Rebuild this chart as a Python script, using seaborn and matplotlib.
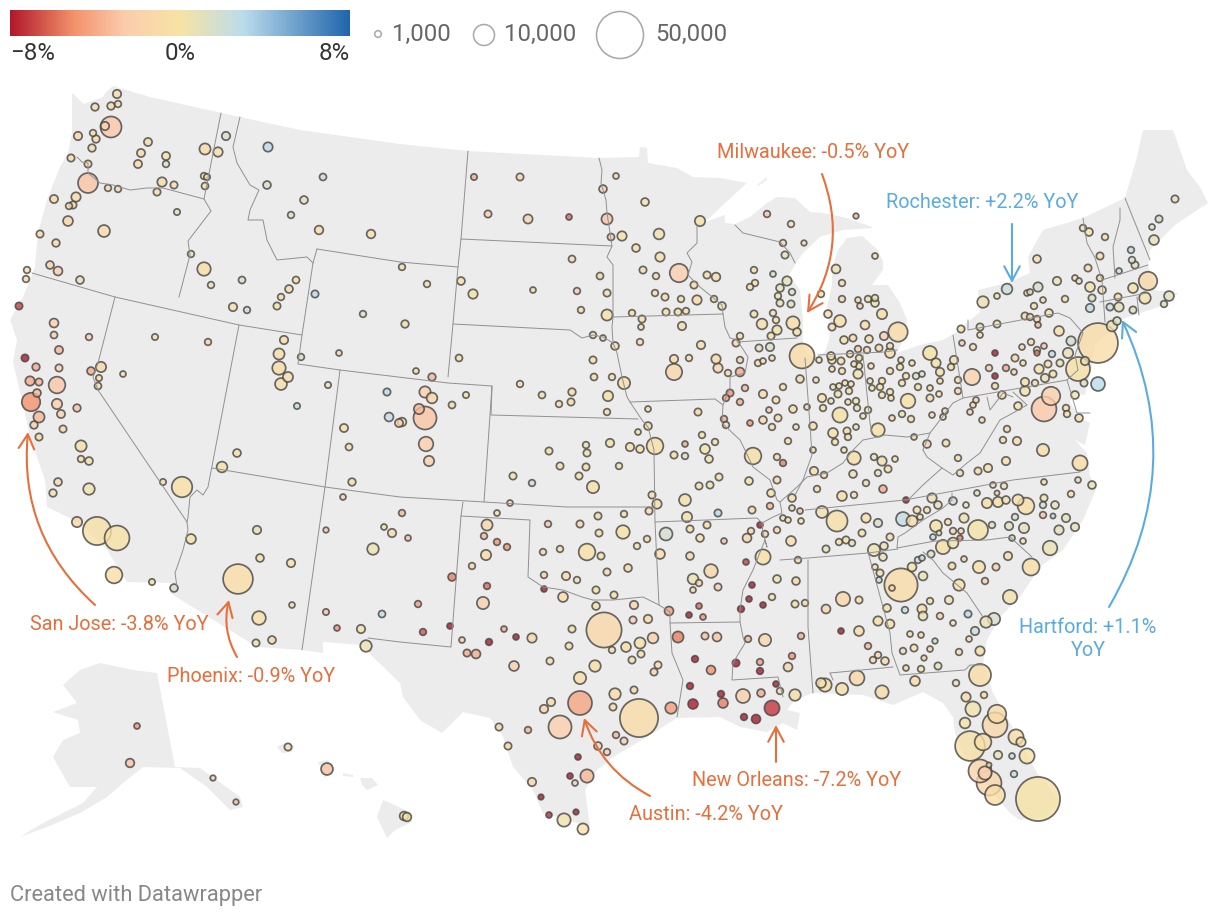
"""Map of metro areas: bubble size = jobs, colour = year-over-year change."""

import matplotlib
matplotlib.use("Agg")
import matplotlib.pyplot as plt
from matplotlib.colors import LinearSegmentedColormap
import numpy as np
import pandas as pd
import seaborn as sns

# (map_x, map_y, jobs in thousands, yoy %) by region, in projected map units
pacific_northwest = [
    (117,94,1.6,-.8),(118,104,1,-.8),(111,106,1.3,-1),(95,107,1.3,-1),(111,127,10,-2.8),(105,126,1.6,-2),
    (78,136,1.6,-1.5),(93,133,1,-.8),(96,139,1.3,-1),(92,148,1.3,-.8),(148,142,1.5,-1),(141,153,1.5,-1),
    (138,164,1.5,-1),(166,156,1.5,-.2),(166,164,1,1),(71,158,1.2,-.8),(88,164,1.2,-1),(88,183,9,-3),
    (108,188,1,-1),(118,189,1,-1),(162,182,2,-1),(174,185,1.2,-.6),(157,192,1.2,-.6),(76,197,2,-1),
    (54,199,1.5,-.8),(69,206,1,-1),(73,205,1.2,-1),(68,221,2.2,-1.5),(104,231,3.2,-1),(40,234,1.2,-.6),
    (56,243,1.3,-.6),(50,265,1.4,-2),(58,271,1.8,-2.5),(27,270,1,-1),(26,279,1,-1),(80,280,1.4,.5),
    (177,212,.9,.8),(205,149,2.8,-.8),(218,152,2,.2),(226,136,1.6,1.5),(204,176,1,-.8),(207,177,.9,-.3),
    (205,186,1.1,-.3),(268,147,2,3),(267,185,1.4,1.5),(323,177,1.1,2),(304,200,1.4,.8),(291,215,1,1.2),
    (319,230,1.7,-.5),(371,234,1.7,-.3),(191,254,1,.8),(204,269,4.1,-.7),(211,285,1,.5),(242,280,1.1,1.5),
    (296,280,1.1,-.2),(289,289,1.4,-.5),(281,297,1,-.5),(315,294,1.2,3),(402,267,1,-.5),
]
california_west = [
    (19,306,1.2,-7),(54,323,1.8,-2),(54,335,1.1,-2.5),(59,350,1.5,-3.5),(89,337,1,-2.5),(155,337,.9,-.5),
    (208,342,1,-1.5),(233,307,1.6,-.3),(247,310,1,2),(277,306,1.2,-.3),(363,314,1,1),(25,358,1.2,-8),
    (36,367,1.3,-4),(59,368,1.2,-1.5),(91,371,1.4,-4),(101,367,2.4,-1.5),(99,378,.9,-.5),(98,386,1.1,-1),
    (123,374,.8,-.5),(30,381,2,-4),(39,382,1.2,-3.5),(57,385,6.3,-2.8),(37,393,1.4,-3.5),(31,402,7.7,-5),
    (57,404,2.4,-2.5),(77,408,1.3,-3),(61,414,1.5,-1.2),(39,417,2.8,-3.5),(34,425,1.3,-2),(39,437,1.2,-1),
    (63,429,1.2,-.8),(81,446,2.9,-.5),(81,459,1,-.4),(89,461,1.4,-.4),(58,482,1.4,-.8),(53,493,1.3,.3),
    (89,489,3,.3),(77,522,2.4,-1.5),(97,531,18,-.4),(117,538,14,-.2),(114,575,6.3,-.7),(152,582,.9,-.5),
    (174,588,1.4,1.5),(163,482,.9,-.3),(182,487,9.5,-.2),(191,539,2.2,-.2),(222,467,2.6,-.3),(237,453,1.4,-.1),
    (279,354,2.8,-.4),(279,368,4.1,-.9),(288,377,2.3,.2),(281,384,3.2,-.7),(284,340,1.6,-.5),(301,357,1,1),
    (339,353,.8,-1.5),(328,385,.9,.5),(297,406,.9,2.5),(387,392,1.2,3),(389,417,1.8,2.5),(399,423,1.5,-2),
    (344,428,1.5,-.3),(349,447,1.1,-.3),(352,482,1.3,-.3),(343,497,.8,-2),(257,530,1.6,.8),(260,558,1.4,-.3),
    (291,563,1.6,.2),(326,530,.7,-2.5),(384,527,.8,-.3),(392,533,1.6,-1),(373,549,3,.5),(238,579,20,-.7),
    (292,605,.8,-.7),(259,618,4.2,-.3),(272,640,1.4,-.8),(256,643,1.2,.1),(326,612,.9,-3),(337,628,.8,-5),
    (382,614,1.1,2.5),(361,629,1.6,.2),(366,646,3,.5),
]
alaska_hawaii = [
    (137,726,.8,-5),(130,763,1.7,-3),(288,747,1.2,-.4),(327,769,3.2,-3),(213,778,.7,-2),(236,802,.7,-3),
    (404,816,1.7,-.5),(407,817,1.7,-.3),
]
rockies_plains = [
    (425,392,2.9,-2),(432,398,2.6,-1.5),(419,409,2.4,-3.5),(425,418,12,-3),(402,422,1.7,-1.5),(426,444,4.8,-2.5),
    (429,461,2.4,-2),(452,405,1.1,-.8),(466,395,.9,-.5),(432,377,1.3,-3.5),(416,371,.8,-.5),(474,177,.9,-4),
    (520,177,1.2,-1.5),(488,214,1.2,-2.5),(528,219,1.9,-1.2),(569,217,.8,-6),(616,176,.8,-1.5),(603,189,1.4,-2.5),
    (607,219,2.8,-3),(611,237,1.1,-2),(622,236,2,-.1),(645,202,1.4,-.2),(700,221,2.4,0),(659,234,2.6,.3),
    (636,248,1.4,-.3),(660,257,2,-.2),(572,259,1.1,-.8),(600,276,1.1,-1),(643,270,1.2,-.4),(656,276,1,-.6),
    (679,273,7.7,-2.5),(707,275,1.2,-.5),(716,277,1.7,-.4),(694,285,1.2,-.7),(427,284,1,-.8),(461,281,1.4,-.5),
    (473,294,2,-.2),(533,290,.8,-.8),(577,291,1,-2.5),(607,293,1.2,-.6),(405,324,1.3,-.4),(581,310,1,-.6),
    (607,315,2.8,-.2),(632,313,1,-.7),(642,319,1.2,-.4),(641,327,.8,-.4),(655,293,1,-.6),(665,297,1.2,-.6),
    (681,299,1,-.5),(697,300,2,-1),(714,299,1,-.8),(722,306,1.4,-.5),(666,312,1.2,-.6),(678,312,1.2,-.5),
    (686,311,1,-.5),(682,326,1.6,-.4),(640,342,1,-.5),(701,345,1.6,-.7),(740,336,1,-.5),(736,343,1.2,-.6),
    (593,335,1,-1),(603,338,.8,.8),(615,346,1.4,-.7),(459,358,1.1,-.7),(593,360,1.2,-.5),(674,359,1.6,-.8),
    (689,358,1,-.7),(716,359,2,-1),(674,372,6,-1.3),(718,368,2,-1.5),(740,360,1,-1.5),(740,372,1.8,-4),
    (728,373,1,-.8),(520,384,1,-.7),(542,395,1.1,-.4),(572,392,1.3,-.5),(559,404,1,-.6),(571,402,1.2,-.7),
    (594,377,1.1,-.4),(612,377,1,-.5),(624,383,3.4,-.6),(608,396,2.4,-.5),(607,412,1,-.4),(648,409,.8,-.4),
    (648,426,1.4,-.8),(638,432,.8,.2),(655,446,6.3,-.2),(610,443,1.6,-.5),(630,447,1.6,-.1),(640,449,1.4,-.4),
    (586,445,1,.5),(587,453,1.2,-.2),(549,451,1.2,-.5),(560,466,1.2,-.4),(586,467,1.2,-.5),(619,466,1,-.5),
    (579,476,1.2,-.2),(593,487,3.4,-.2),(513,476,1.2,-.3),(532,483,1,1.8),(652,495,1.2,-.2),(657,504,2,-.1),
    (510,503,.8,-1.7),(497,513,.8,-.3),(649,511,1.2,-.8),(402,513,1,-3.5),(408,538,.8,-3),
]
south_central = [
    (598,516,1.2,-1.2),(624,514,1,-.3),(548,524,1,-3),(580,524,1.2,-1.5),(599,533,1.2,-.5),(623,532,4.1,-.1),
    (487,525,2.8,-1.5),(484,536,1,-3.5),(497,542,1,-5),(507,547,1,-5),(486,555,2.4,-.8),(472,566,1,-1.5),
    (452,577,1.4,-5.5),(543,552,1,-1.2),(560,549,1,-.5),(587,552,6.3,-.3),(601,556,1.2,0),(637,546,1,-.5),
    (647,539,1,-.5),(666,534,3.8,1.8),(660,554,2.2,-.7),(687,517,2.4,.1),(685,500,3.2,.2),(690,529,1.2,.2),
    (700,538,1.4,-.1),(707,525,1.2,-.7),(718,513,1.2,3),(724,541,.8,-3),(690,556,1.4,-1.5),(711,571,4.2,-1.5),
    (693,579,2.6,.5),(699,583,1,-1.5),(693,590,.8,-.8),(718,587,1.2,-2.5),(544,575,1,-1.5),(566,576,1.6,-.4),
    (577,580,1,.3),(607,572,1.2,-1),(628,568,1.4,-.6),(544,589,.8,-8),(487,586,1,-6),(596,590,1.2,-.1),
    (614,595,1.2,-.2),(563,597,2.2,-.7),(596,606,1.4,-.7),(634,605,1.6,-1.5),(418,604,1,-4.5),(483,603,3.4,-2),
    (669,611,1.8,-4.5),(699,606,.8,-6),(689,615,.8,-8),(703,617,.8,-5),(423,632,1,-6.5),(450,626,.8,-8),
    (462,640,.8,-2.5),(504,629,.8,-4),(516,637,.8,-8),(489,642,1,-8),(467,653,1.2,-4),(476,654,1.8,-4),
    (532,638,2,-1.3),(572,629,1.2,-.4),(604,630,28,-1.3),(633,620,1.2,-2.5),(648,619,1.6,-.8),(653,638,2.6,-2),
    (640,643,2.8,-.1),(626,647,2.2,-.7),(569,646,1.2,.1),(612,650,1,0),(641,654,1.2,.1),(550,661,1.2,-1),
    (632,660,1.2,-.5),(514,666,2.2,-2),(595,666,3,-.5),(658,665,1.2,-.6),(678,637,2.8,-5.5),(705,636,1.2,-3),
    (717,637,1.8,-3),(695,659,1,-8),(748,639,1,-3.5),(765,640,3.4,-1.5),(736,663,1.2,-8),(760,662,1,-4.5),
    (792,656,1,-5),(788,667,1.8,-1.2),(801,636,1,-4),(711,670,1.8,-5),(580,678,3.4,-.5),(580,703,13,-4.2),
    (560,727,12,-2.5),(544,709,1.6,-1.5),(551,702,1.6,-.8),(615,694,3,-.9),(634,690,1.2,-1.5),(613,707,1.2,-.4),
    (639,718,33,-1),(671,708,3,-4.5),(654,672,1.2,-1.2),(690,686,1,-8),(693,704,2.2,-8),(721,694,1,-8),
    (723,703,2.2,-5.5),(743,696,4.4,-2.2),(761,693,1.4,-4),(760,671,1,-8),(776,684,.8,-8),(780,691,1,-1),
    (795,695,3,-.5),(744,717,1,-8),(756,719,1.8,-8),(772,708,5.2,-7.2),(616,735,1,-3.5),(624,741,1.2,-2),
    (598,746,1.4,-1.5),(607,752,1,-2.5),(499,727,1.2,-1.5),(528,730,1,-3.5),(508,746,1.2,-.8),(578,757,.8,-8),
    (587,776,4,-3.5),(570,776,.8,-8),(575,783,.8,-2.5),(532,782,1.6,-1.5),(541,797,.7,-8),(549,815,.8,-7.5),
    (576,812,.7,-8),(564,820,4,.3),(583,829,2.8,-.1),
]
mississippi_valley = [
    (730,393,1.2,-5),(726,398,1,-4.5),(745,388,1,-3.5),(740,402,1,-4),(763,394,1.6,-.8),(776,400,1.2,-.5),
    (783,387,1,-.1),(793,409,1.4,-.7),(769,410,.8,-3),(750,423,.8,-5),(724,419,1,-4),(726,425,1,.5),
    (763,420,1.4,-1),(778,418,1.2,-.2),(772,427,1,-.4),(796,427,.8,-.5),(788,441,1,-.7),(702,435,1,-.2),
    (685,444,.8,-4),(715,442,1,.2),(705,449,2.2,.1),(674,455,1.2,-.4),(685,456,1,1),(709,459,1.4,-.3),
    (698,412,1.2,-.8),(753,456,6.3,-.4),(777,457,1,-1.5),(783,463,1,-5.5),(749,481,1.4,-.2),(777,480,1.2,-1),
    (699,486,1.2,-.2),(710,485,1.2,.4),(719,477,1.2,-.2),(771,493,1.4,-.2),(770,506,1,-3.5),(752,510,1.2,-.6),
    (792,498,1.4,-.3),(792,508,.8,.7),(783,518,.8,-.2),(788,520,.8,.3),(760,525,.8,-8),(751,531,1,-.8),
    (765,534,1,-1.5),(747,538,1.8,-1.5),(777,530,1,-1.5),(791,541,2.2,-.3),(763,557,5.2,-.3),(746,562,.8,-7),
    (798,560,1,-.7),(777,579,1.4,.5),(796,581,1.4,-1.2),(752,585,.8,-8),(749,599,.8,-8),(763,605,.8,-8),
    (772,597,1,-.2),(741,609,1,-8),(795,604,1.2,-1),(805,603,1,-1.5),
]
great_lakes = [
    (759,348,1.2,.9),(770,347,1.6,1.5),(772,358,.8,-.4),(763,361,.8,-.5),(758,363,1,-.7),(754,314,1.2,-.4),
    (762,324,2.6,-.4),(771,336,1.2,-.2),(777,330,2,-.1),(773,313,1,.4),(776,320,1,-.2),(793,323,4,-.5),
    (797,332,1.4,-.5),(754,270,1,-.5),(755,283,1,-.5),(750,287,1,-.6),(773,274,.8,1.5),(780,288,1.4,.8),
    (787,281,2,.8),(778,296,1,-.2),(792,292,1,1.3),(780,303,1.2,.7),(791,304,1.2,1),(767,214,1,-3),
    (791,224,1,-.7),(783,243,1,-1),(785,255,1.2,.5),(802,356,14,-.8),(856,216,.7,-3.5),(804,243,.7,-.5),
    (875,256,.8,-.8),(836,269,1.8,.5),(842,283,1,-1),(821,294,1,-.5),(842,299,1,-.8),(858,300,.8,-1.5),
    (860,306,.8,-2.5),(868,299,1,-.8),(875,298,1,.2),(875,303,1.4,.1),(828,314,1.4,-.5),(840,321,3.2,-.4),
    (832,327,1.2,-.4),(865,325,1.8,-.7),(882,314,2.4,-.5),(898,332,8.5,-.8),(884,336,1.6,-2.2),(844,340,1.4,-.7),
    (853,338,1.2,-.5),(869,339,1.4,-.4),(858,349,1,-2),(867,350,1,-.7),(879,348,1.2,-.6),(890,346,1,-.7),
    (890,353,2.2,-.4),(850,354,1,-.8),(831,356,1.4,-.2),(859,358,1,-.4),(832,360,1.4,-.4),(841,361,1.2,-.6),
    (819,360,.8,.3),(854,364,.8,-.3),(859,366,1,-.2),(871,366,.8,-.2),(832,369,.8,-.5),(842,371,1,-.5),
    (858,374,2,.4),(816,380,.8,-.5),(870,381,.8,.6),(882,381,1,-.3),(890,371,1,-.5),(906,376,1,-.5),
    (901,360,.8,-.3),(900,367,1,-.3),(912,363,.8,-.6),(916,376,1,1),(922,374,.8,1.2),(833,387,.8,.5),
    (839,386,.8,.3),(845,383,.8,.3),(851,384,.8,-.2),(849,391,1,-.4),(838,394,1.2,.2),(822,398,1.6,-.3),
    (872,388,.8,-.3),(880,387,1,-.3),(882,395,1,-.3),(890,392,1,-.4),(891,398,.8,-.3),(902,383,1,-.3),
    (918,387,1,.2),(908,401,4.8,-.2),(930,388,.8,-.4),(930,398,1.2,-.4),(939,394,.8,-.5),(940,381,.8,-.5),
    (930,353,4.4,.1),(936,363,2,-.2),(940,372,1.6,-.3),(951,367,1,-.4),(954,360,1.6,.3),(958,380,1,-.7),
    (958,391,1,-1.9),(972,377,6,-1.8),(807,407,.8,-2),(823,408,1,-.5),(848,402,.8,-.4),(857,408,1,.5),
    (856,401,1,.2),(840,415,5.2,-.1),(868,410,1,.4),(863,416,.8,.5),(813,426,1.4,-.4),(892,418,.8,-.6),
    (902,414,1,.5),(911,419,1,-.4),(932,415,.8,-.9),(945,411,.8,-.7),(943,417,.8,-1.3),(982,420,.8,-1.5),
    (970,412,.8,-1.8),(973,405,.8,-1.7),(976,400,.8,-1.5),(800,379,1.4,-1.2),(831,401,.8,.5),(847,431,1.2,-.3),
    (833,433,2.2,-.3),(856,427,.8,.5),(848,437,1,-.3),(835,442,1,-.4),(878,430,4.1,-.2),
]
northeast = [
    (1002,395,1.4,-.6),(1018,406,1.4,-.3),(1025,382,1.6,-.3),(1025,391,2.2,.3),(1035,383,1,-.3),(1066,408,1,-.6),
    (1067,414,1,-.8),(1079,418,1.4,-.6),(1075,395,1.4,0),(1007,429,1,-.8),(1051,396,7.7,-2),(1044,409,14,-2.7),
    (1084,383,1.2,1),(1098,384,4.4,3),(1078,369,13,0),(1085,361,1.6,.7),(1098,343,36,-.9),(1068,353,2.4,.7),
    (1071,341,2,1.8),(1059,331,2.2,-.2),(1052,354,1,2.5),(1039,369,2,-.2),(1048,364,1.2,.2),(1060,363,1.2,.5),
    (1053,374,1.2,-.1),(1045,378,1.6,.4),(1015,358,1.2,-1),(1023,363,.8,-.1),(1006,368,1,-4),(1014,372,.8,-1.2),
    (989,368,1,-1.7),(995,376,.8,-8),(995,386,1,-.8),(995,353,.8,-8),(1022,347,.8,-.9),(1031,342,1,-.8),
    (1037,350,1,-1),(1037,353,.7,-5.5),(1044,346,.8,-2.8),(962,343,.8,-2.5),(973,347,1,-1),(961,329,1.2,-.1),
    (980,327,1.2,.5),(980,335,.8,-.5),(997,324,1.2,.2),(983,302,3,.5),(997,296,.8,-.1),(1007,289,2.6,2.2),
    (1027,293,.8,-.3),(1030,292,.8,-.2),(1038,287,2,1.6),(1034,306,1,.2),(1043,300,.8,-.5),(1057,281,1.6,.5),
    (1065,299,1,-.4),(1049,313,1.4,.1),(1025,316,1.2,-.8),(1030,317,1,-.5),(1037,319,1,-.8),(1038,325,.8,-3.5),
    (1037,259,1.4,-.3),(1083,228,1,-.3),(1089,232,1.4,-.3),(1105,237,1,-.6),(1131,250,1,2.5),(1132,260,1,1.5),
    (1135,265,1.2,.7),(1119,271,.8,2.5),(1100,256,1.2,-.3),(1088,268,1.2,-.4),(1100,278,1,-.2),(1075,278,.8,-.2),
    (1079,281,.8,1),(1090,287,2.2,.1),(1102,290,1.4,.5),(1092,298,1.2,1.2),(1090,308,1.6,2.7),(1110,307,1.2,2),
    (1118,297,1.2,-.3),(1119,307,2,.7),(1133,288,2.2,-.1),(1148,281,7.7,-1.2),(1145,298,3,.2),(1133,310,1.2,1),
    (1169,296,2.2,1),(1164,304,1,1),(1117,321,1.4,1.1),(1112,326,2.6,.5),(1175,199,1.2,.8),(1159,219,1.2,1.5),
    (1152,227,.8,1),(1154,240,2.2,.6),
]
southeast = [
    (826,609,1.8,-1.5),(843,599,4.6,-1.5),(859,600,1.2,-1),(887,608,1.4,-.1),(905,610,1,2.5),(922,609,2,-.4),
    (923,616,1.8,.5),(940,616,1,-1.5),(968,614,1.2,3),(953,623,.8,-.5),(986,622,3,.5),(994,619,3.4,1.6),
    (975,631,1.6,2),(969,639,.8,-.5),(980,651,2,-.6),(841,631,.8,-8),(859,631,2.2,-.9),(878,621,2,-.7),
    (890,624,1.8,-.2),(868,646,1,-3.5),(878,655,1,-1.2),(873,660,1,-.8),(885,661,1.4,-1),(910,634,.8,-.5),
    (921,635,.8,-1),(935,641,.7,1.5),(914,648,1.2,-.2),(903,651,1,1),(930,649,.8,-1.5),(924,658,.7,-1.2),
    (959,652,1,-.4),(906,668,.8,-1.3),(921,669,1,-.3),(938,666,1.2,.5),(980,675,11,-.9),(915,681,2.2,-.8),
    (956,683,1,.6),(966,697,2,-.9),(984,695,1,-.5),(973,709,5.2,.3),(997,714,7.7,-1),(995,725,14,-1.2),
    (965,723,2.6,-.3),(970,746,20,-.4),(983,742,6.3,-.4),(1016,737,5.2,-1),(1021,742,2,-.7),(998,755,1.6,.7),
    (1012,756,.8,2.5),(1027,756,5.2,-.3),(980,771,12,-1.8),(985,773,4,-2.5),(989,765,.6,-.3),(989,783,14,-1.5),
    (995,795,9,-.6),(1014,774,1,2.5),(1038,799,44,-.1),(821,683,2.2,-.3),(825,685,4,-.5),(842,689,3.4,-.4),
    (857,678,5,-1.2),(882,692,4,-1),(901,585,25,-.9),(892,588,.8,-1.5),(923,576,1.8,.5),(912,567,1.8,.2),
    (918,560,1,2),(922,558,.8,2.5),(931,554,1.2,1),(880,573,1.2,.3),(875,567,.8,-.7),(879,580,.8,2.5),
    (874,550,3.4,.4),(883,557,1.4,.8),(884,546,1.4,.4),(890,537,1.2,-.4),(862,533,1.2,-.3),(852,543,1,1),
    (846,540,1.2,.2),(839,542,1,-.3),(826,549,1.2,.7),(866,518,2,-.2),(878,523,1.6,1.5),(837,521,10,-.4),
    (822,512,3.2,.3),(800,511,.8,-3),(801,521,.8,-.5),(817,489,1,-.5),(842,496,2.2,-.5),(854,495,1,-.5),
    (866,483,1,.7),(883,489,1.4,-4),(906,500,.8,-8),(853,474,1.4,.5),(824,475,1,-.2),(814,471,1.6,-.4),
    (878,473,1,.5),(882,461,2,.4),(888,469,1.2,-.3),(895,459,.8,-.4),(874,457,1,.4),(854,458,4.1,-.4),
    (844,450,.8,-.5),(813,450,.8,-.5),(914,437,.8,-.7),(927,444,1.4,-1.8),(946,443,1.2,-.9),(958,458,1,-.5),
    (960,473,1,.2),(978,471,1.2,-1),(988,468,1.6,.2),(1006,461,1.6,-.3),(1003,440,1,-.8),(1017,441,1.6,-1),
    (1043,450,3.4,-.6),(1080,463,5.2,-.6),(1044,482,.8,-.6),(1078,480,.8,1),(1092,485,1.4,.5),(1071,494,1,-.3),
    (993,485,.8,-.6),(1004,486,1,.4),(977,493,.8,.8),(997,493,.6,-1),(987,503,2.4,-.5),(998,502,2.4,-.5),
    (1006,500,1.4,.3),(1018,500,2.8,-.5),(1026,506,6.3,-.7),(1044,498,1.2,.2),(1043,505,1,1.8),(1055,505,1.4,.7),
    (1043,515,1,-3),(1053,516,.6,2.5),(1066,518,1.6,.8),(1075,527,1.6,.8),(1059,530,2,.8),(1015,517,1,1.5),
    (1009,526,1.6,1),(1024,528,2.4,.9),(1050,548,4.8,.5),(1012,538,.8,1.2),(1023,541,.8,.4),(1008,556,1.6,-.8),
    (1031,567,6.5,-.4),(996,567,1.2,-1.7),(979,567,3.4,-.3),(964,559,.8,-2),(952,566,1.2,-.8),(985,581,1,-2),
    (959,585,3,-.3),(949,600,1.6,.4),(930,601,1,-.2),(1010,597,4.6,.3),(953,501,1.4,1.7),(966,505,.8,.3),
    (932,498,2,.6),(938,505,1.4,.7),(927,510,1,.6),(917,510,1.2,.2),(920,517,.8,-.3),(903,519,4.4,2.5),
    (912,521,2.8,-.5),(936,526,3.2,-.3),(948,522,1,-.5),(964,518,2,.3),(978,530,9,.1),(992,525,1,1),
    (953,531,1,-1.6),(961,531,.8,-1.5),(960,538,.7,-5.5),(939,533,.6,-.5),(933,537,.8,2.5),(943,547,4.6,-.5),
    (953,543,2.6,.3),
]
# base map
land_lower48 = [
    (72,93),(84,104),(103,97),(106,92),(113,86),(150,97),(222,113),(240,117),(300,130),(400,144),(468,151),
    (599,158),(639,157),(640,147),(647,148),(648,163),(677,168),(693,177),(720,178),(747,183),(725,203),(705,222),
    (725,215),(725,223),(735,224),(750,217),(767,203),(777,197),(795,198),(810,212),(823,213),(843,217),(867,225),
    (873,228),(843,230),(820,237),(803,253),(795,265),(789,275),(800,290),(803,320),(803,345),(808,355),(817,357),
    (825,352),(829,340),(830,325),(827,307),(832,285),(832,268),(838,250),(847,238),(862,236),(878,250),(883,262),
    (883,270),(872,285),(888,285),(900,303),(907,320),(905,335),(897,353),(920,345),(943,340),(960,330),(968,322),
    (980,312),(978,290),(1007,283),(1030,273),(1028,257),(1043,230),(1083,218),(1125,198),(1137,157),(1143,130),
    (1173,130),(1187,170),(1200,187),(1208,203),(1175,225),(1150,250),(1148,265),(1155,290),(1178,293),(1165,305),
    (1125,318),(1095,345),(1092,365),(1085,395),(1073,393),(1070,402),(1080,418),(1090,423),(1085,445),(1075,440),
    (1087,453),(1090,477),(1097,487),(1083,520),(1063,550),(1040,567),(1020,597),(1000,617),(987,640),(983,663),
    (993,693),(1007,717),(1037,773),(1060,800),(1047,817),(1020,820),(1010,813),(993,793),(977,773),(963,753),
    (955,733),(953,717),(943,703),(923,692),(893,705),(863,695),(813,693),(795,700),(787,710),(800,713),(797,730),
    (783,723),(767,732),(740,727),(720,717),(677,718),(647,737),(613,757),(597,770),(585,790),(590,827),(543,813),
    (533,790),(513,767),(503,737),(490,718),(463,712),(442,733),(420,720),(403,697),(400,683),(373,657),(362,645),
    (323,642),(323,653),(302,650),(257,647),(170,593),(173,583),(127,582),(107,550),(80,523),(47,507),(45,480),
    (37,457),(30,437),(25,413),(13,362),(17,340),(10,320),(23,297),(35,267),(38,233),(47,200),(60,167),(68,153),
    (72,133),
]
land_alaska = [
    (157,673),(175,767),(200,768),(240,797),(243,807),(230,810),(207,787),(180,768),(143,767),(123,783),(107,797),
    (80,813),(47,827),(20,837),(43,823),(83,803),(97,787),(70,787),(53,757),(63,740),(80,733),(78,720),(53,712),
    (77,703),(63,685),(80,670),(100,663),(133,670),
]
land_islands = [
    [(277,747),(285,743),(295,746),(292,752),(282,753)],
    [(318,762),(328,760),(335,770),(325,778)],
    [(343,773),(353,775),(353,777),(343,776)],
    [(360,778),(372,778),(378,785),(367,790),(362,785)],
    [(383,800),(410,812),(412,822),(395,830),(387,838),(377,817)],
    [(757,185),(767,177),(767,180),(758,186)],
]
state_lines = [
    [(77,157),(82,162),(88,163),(88,173),(100,183),(113,185),(130,190),(147,188),(163,188),(204,199)],
    [(221,113),(204,199),(211,211),(188,241),(190,255),(179,297)],
    [(32,273),(115,297),(177,311),(239,325),(302,335)],
    [(240,117),(233,147),(237,163),(250,185),(259,190),(250,210),(248,220),(263,220),(267,240),(277,260),(307,257),(313,263)],
    [(317,249),(400,262),(458,267)],
    [(468,151),(461,239),(458,267),(453,324),(448,377)],
    [(317,249),(313,263),(302,335),(298,364),(340,370),(448,383),(492,386),(491,415),(638,419)],
    [(461,239),(612,246)],
    [(453,324),(570,330),(582,338),(593,335),(603,337),(613,343)],
    [(599,158),(602,170),(601,183),(606,200),(607,213),(612,246),(607,257),(613,265),(613,317),(612,327),(613,343),(617,353),(622,377),(627,397),(630,402),(642,420),(648,427),(654,450),(655,522),(659,605),(670,612),(670,623),(672,653),(683,680),(677,717)],
    [(613,317),(723,314)],
    [(630,402),(715,399),(723,405)],
    [(492,386),(484,502)],
    [(212,468),(325,487),(400,497),(484,502),(567,507),(653,507)],
    [(463,502),(461,516),(530,520),(528,577),(543,587),(563,590),(582,597),(593,600),(613,600),(643,597),(659,605)],
    [(655,522),(757,518),(762,523),(763,533),(767,547),(765,540),(753,570),(743,590),(740,610),(740,622),(743,637),(745,643),(733,663),(732,680),(778,677),(783,697)],
    [(670,623),(740,622)],
    [(723,314),(725,327),(730,338),(737,340),(748,357),(745,373),(730,377),(730,387),(723,405),(722,423),(740,440),(745,450),(753,467),(770,480),(777,500),(780,502),(782,513),(773,517),(762,523)],
    [(737,342),(797,338)],
    [(697,225),(697,243),(687,253),(692,262),(688,275),(700,287),(722,305),(723,314)],
    [(735,225),(743,233),(780,242),(790,253),(795,263)],
    [(805,358),(810,425),(812,455),(803,480),(795,495)],
    [(818,355),(885,352),(897,350)],
    [(863,355),(870,423),(872,433)],
    [(780,502),(797,487),(807,477),(827,473),(843,463),(853,450),(863,440),(873,438),(885,435),(907,437),(930,433),(940,420),(953,403),(963,398)],
    [(923,450),(927,457),(942,468),(923,485),(908,500)],
    [(930,433),(923,450)],
    [(942,468),(953,475),(967,463),(980,453),(1000,420),(1013,413),(1027,405),(1013,392)],
    [(953,335),(963,398),(1067,380)],
    [(968,320),(968,330),(1058,313),(1070,318),(1083,333),(1075,355),(1078,370),(1067,380),(1077,413),(1090,413)],
    [(987,397),(990,410),(1003,393),(1013,397)],
    [(1083,218),(1087,243),(1095,258),(1102,280),(1105,322)],
    [(1102,280),(1148,265)],
    [(1100,302),(1147,293)],
    [(1137,297),(1139,315)],
    [(1120,208),(1120,220),(1113,247),(1115,278)],
    [(1125,198),(1150,260)],
    [(780,560),(808,558),(868,553),(898,549)],
    [(805,510),(905,500),(1013,480),(1080,472)],
    [(952,493),(952,500),(943,508),(923,520),(905,533),(898,537),(897,548),(935,541),(987,540),(1010,537),(1032,557)],
    [(923,552),(933,560),(943,573),(967,593),(983,617)],
    [(868,552),(890,633),(892,653),(900,675),(965,670),(970,665),(983,665)],
    [(830,673),(893,667)],
    [(830,673),(833,680)],
    [(808,560),(808,627),(813,693)],
    [(115,297),(98,363),(93,377),(98,390),(187,522),(188,530),(183,550),(175,573),(177,587)],
    [(239,325),(208,487),(203,495),(197,490),(190,497),(188,517),(187,522)],
    [(340,370),(325,487),(302,650)],
    [(461,516),(451,647),(400,642),(368,638)],
]
# legend values
hue_stops = [-8, -5, -2.6, 0, 3, 8]
hue_colors = ["#b2182b", "#f4936c", "#fbcdae", "#f8e3a5", "#bcdcec", "#2166ac"]
hue_ticks = ["\u22128%", "0%", "8%"]
legend_jobs = [1, 10, 50]
legend_labels = ["1,000", "10,000", "50,000"]
ORANGE = "#e66f3c"
BLUE = "#5aace0"

sns.set_theme(style="white")
plt.rcParams["font.family"] = ["Roboto", "DejaVu Sans"]

cities = pd.DataFrame(
    pacific_northwest + california_west + alaska_hawaii + rockies_plains + south_central
    + mississippi_valley + great_lakes + northeast + southeast,
    columns=["map_x", "map_y", "jobs", "yoy"],
).sort_values("jobs", ascending=False)

yoy_cmap = LinearSegmentedColormap.from_list(
    "yoy", [((s + 8) / 16, c) for s, c in zip(hue_stops, hue_colors)]
)
size_max = (2 * 23.5 * 0.72) ** 2  # area of the 50,000 bubble, in points^2

fig = plt.figure(figsize=(12.2, 9.16), dpi=100)
ax = fig.add_axes([0, 0, 1, 1])

ax.fill(*zip(*land_lower48), color="#ececec", lw=0)
ax.fill(*zip(*land_alaska), color="#ececec", lw=0)
for island in land_islands:
    ax.fill(*zip(*island), color="#ececec", lw=0)
for line in state_lines:
    ax.plot(*zip(*line), color="#909090", lw=0.7, solid_joinstyle="round")

sns.scatterplot(
    data=cities, x="map_x", y="map_y", hue="yoy", size="jobs",
    palette=yoy_cmap, hue_norm=(-8, 8), sizes=(0, size_max), size_norm=(0, 50),
    alpha=0.8, edgecolor="#454545", linewidth=1.25, legend=False, ax=ax,
)

# colour legend
ax.imshow(np.linspace(-8, 8, 340)[None, :], cmap=yoy_cmap, vmin=-8, vmax=8,
          extent=(10, 350, 36, 10), aspect="auto", zorder=3)
for x, label, ha in zip([10, 180, 350], hue_ticks, ["left", "center", "right"]):
    ax.text(x, 53, label, ha=ha, va="center", fontsize=17.3, color="#333333")

# size legend
legend_sizes = pd.DataFrame({"x": [378, 484, 620], "y": [34, 35, 35], "jobs": legend_jobs})
sns.scatterplot(
    data=legend_sizes, x="x", y="y", size="jobs", sizes=(0, size_max), size_norm=(0, 50),
    color="white", edgecolor="#aaaaaa", linewidth=1.15, legend=False, ax=ax,
)
for x, label in zip([392, 504, 655], legend_labels):
    ax.text(x, 34, label, ha="left", va="center", fontsize=17.2, color="#666666")


def callout(text, text_xy, start, end, color, rad=0.0):
    ax.text(*text_xy, text, ha="center", va="center", fontsize=14.3, color=color, linespacing=1.3)
    ax.annotate(
        "", xy=end, xytext=start,
        arrowprops=dict(arrowstyle="->,head_length=0.75,head_width=0.4", color=color, lw=1.5,
                        mutation_scale=14, shrinkA=0, shrinkB=0,
                        connectionstyle=f"arc3,rad={rad}"),
    )


callout("Milwaukee: -0.5% YoY", (813, 152), (822, 174), (807, 313), ORANGE, -0.25)
callout("Rochester: +2.2% YoY", (982, 203), (1012, 224), (1012, 283), BLUE)
callout("Hartford: +1.1%\nYoY", (1088, 639), (1109, 607), (1122, 320), BLUE, 0.26)
callout("San Jose: -3.8% YoY", (119, 625), (95, 605), (28, 432), ORANGE, -0.25)
callout("Phoenix: -0.9% YoY", (251, 677), (237, 657), (229, 600), ORANGE, -0.2)
callout("New Orleans: -7.2% YoY", (797, 781), (776, 762), (776, 725), ORANGE)
callout("Austin: -4.2% YoY", (706, 815), (650, 796), (584, 718), ORANGE, -0.2)

ax.text(10, 895, "Created with Datawrapper", ha="left", va="center", fontsize=15.75, color="#888888")

ax.set_xlim(0, 1220)
ax.set_ylim(916, 0)
ax.axis("off")

fig.savefig("out.png", dpi=100)
plt.close(fig)
